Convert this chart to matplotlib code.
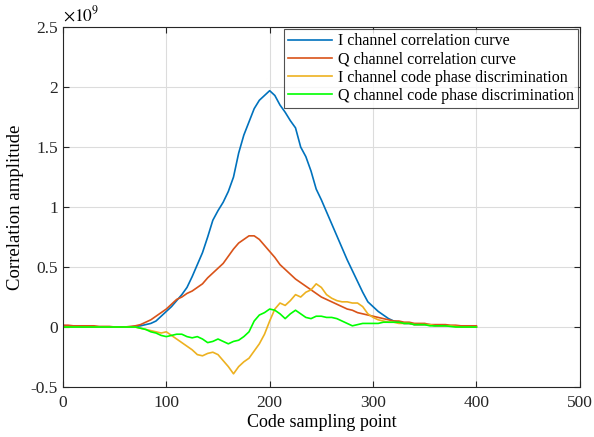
import numpy as np
import matplotlib
matplotlib.use('Agg')
import matplotlib.pyplot as plt
from matplotlib.ticker import FuncFormatter

plt.rcParams['font.family'] = ['Liberation Serif', 'DejaVu Serif']
plt.rcParams['mathtext.fontset'] = 'stix'

# code sampling points (every 5 samples), values in units of 1e9
x = np.arange(0, 401, 5)

i_corr = [0.01, 0.01, 0.005, 0.005, 0.0, 0.0, 0.0, 0.0, 0.0, 0.0, 0.0, 0.0, 0.0, 0.0, 0.005,
          0.01, 0.02, 0.03, 0.05, 0.09, 0.13, 0.17, 0.22, 0.27, 0.33, 0.42, 0.52, 0.62, 0.75,
          0.89, 0.97, 1.04, 1.13, 1.25, 1.45, 1.60, 1.71, 1.82, 1.89, 1.93, 1.97, 1.93, 1.85,
          1.79, 1.72, 1.66, 1.50, 1.42, 1.30, 1.15, 1.06, 0.96, 0.86, 0.76, 0.66, 0.56, 0.47,
          0.38, 0.29, 0.21, 0.17, 0.13, 0.10, 0.07, 0.05, 0.04, 0.03, 0.03, 0.02, 0.02, 0.02,
          0.02, 0.01, 0.01, 0.01, 0.01, 0.01, 0.005, 0.0, 0.0, 0.0]

q_corr = [0.015, 0.015, 0.01, 0.01, 0.01, 0.01, 0.01, 0.005, 0.005, 0.005, 0.0, 0.0, 0.0, 0.005, 0.01,
          0.02, 0.04, 0.06, 0.09, 0.12, 0.15, 0.19, 0.23, 0.25, 0.28, 0.30, 0.33, 0.36, 0.41,
          0.45, 0.49, 0.53, 0.59, 0.65, 0.70, 0.73, 0.76, 0.76, 0.73, 0.68, 0.63, 0.58, 0.52,
          0.48, 0.44, 0.40, 0.37, 0.34, 0.31, 0.28, 0.25, 0.23, 0.21, 0.19, 0.17, 0.15, 0.14,
          0.12, 0.11, 0.10, 0.09, 0.08, 0.07, 0.06, 0.05, 0.05, 0.04, 0.04, 0.03, 0.03, 0.03,
          0.02, 0.02, 0.02, 0.02, 0.015, 0.015, 0.01, 0.01, 0.01, 0.01]

i_disc = [0.0, 0.0, 0.0, 0.0, 0.0, 0.0, 0.0, 0.0, 0.0, 0.0, 0.0, 0.0, 0.0, 0.0, 0.0,
          -0.01, -0.02, -0.03, -0.04, -0.05, -0.04, -0.07, -0.10, -0.13, -0.16, -0.19, -0.23, -0.24, -0.22,
          -0.21, -0.23, -0.28, -0.33, -0.39, -0.33, -0.29, -0.26, -0.20, -0.14, -0.06, 0.05, 0.15, 0.20,
          0.18, 0.22, 0.27, 0.25, 0.29, 0.31, 0.36, 0.33, 0.27, 0.24, 0.22, 0.21, 0.21, 0.20,
          0.20, 0.17, 0.11, 0.08, 0.06, 0.05, 0.04, 0.04, 0.03, 0.03, 0.03, 0.02, 0.02, 0.02,
          0.02, 0.01, 0.01, 0.01, 0.01, 0.005, 0.0, 0.0, 0.0, 0.0]

q_disc = [0.0, 0.0, 0.0, 0.0, 0.0, 0.0, 0.0, 0.0, 0.0, 0.0, 0.0, 0.0, 0.0, 0.0, 0.0,
          -0.01, -0.02, -0.04, -0.05, -0.07, -0.08, -0.07, -0.06, -0.06, -0.08, -0.09, -0.08, -0.10, -0.13,
          -0.12, -0.10, -0.12, -0.14, -0.12, -0.11, -0.08, -0.04, 0.05, 0.10, 0.12, 0.15, 0.14, 0.11,
          0.07, 0.11, 0.14, 0.11, 0.08, 0.07, 0.09, 0.09, 0.08, 0.08, 0.07, 0.05, 0.03, 0.01,
          0.02, 0.03, 0.03, 0.03, 0.03, 0.04, 0.04, 0.04, 0.04, 0.03, 0.03, 0.02, 0.02, 0.02,
          0.01, 0.01, 0.01, 0.01, 0.005, 0.0, 0.0, 0.0, 0.0, 0.0]

labels = ['I channel correlation curve', 'Q channel correlation curve',
          'I channel code phase discrimination', 'Q channel code phase discrimination']
colors = ['#0072BD', '#D95319', '#EDB120', '#00FF00']

fig = plt.figure(figsize=(5.94, 4.37), dpi=100)
ax = fig.add_axes([0.106, 0.1144, 0.870, 0.8236])

for y, lab, c in zip([i_corr, q_corr, i_disc, q_disc], labels, colors):
    ax.plot(x, y, color=c, lw=1.2, label=lab)

ax.set_xlim(0, 500)
ax.set_ylim(-0.5, 2.5)
ax.set_xticks(np.arange(0, 501, 100))
ax.set_yticks(np.arange(-0.5, 2.51, 0.5))
ax.yaxis.set_major_formatter(FuncFormatter(lambda v, p: '%g' % v))
ax.grid(True, color='#dcdcdc', lw=0.8)
ax.set_axisbelow(True)
ax.tick_params(direction='in', top=True, right=True, labelsize=12.5, length=4,
               colors='#262626')
ax.tick_params(axis='x', pad=6)
for s in ax.spines.values():
    s.set_color('#262626')
    s.set_linewidth(0.8)

ax.set_xlabel('Code sampling point', fontsize=13, labelpad=2)
ax.set_ylabel('Correlation amplitude', fontsize=13.5, labelpad=5)
ax.text(0.0, 1.005, r'$\times10^{9}$', transform=ax.transAxes, fontsize=12.5,
        ha='left', va='bottom')

leg = ax.legend(loc='upper right', fontsize=11.5, frameon=True, fancybox=False,
                borderaxespad=0.1, handlelength=2.75, labelspacing=0.14,
                borderpad=0.28, handletextpad=0.35)
leg.get_frame().set_edgecolor('#262626')
leg.get_frame().set_linewidth(0.8)

fig.savefig('out.png', dpi=100)
